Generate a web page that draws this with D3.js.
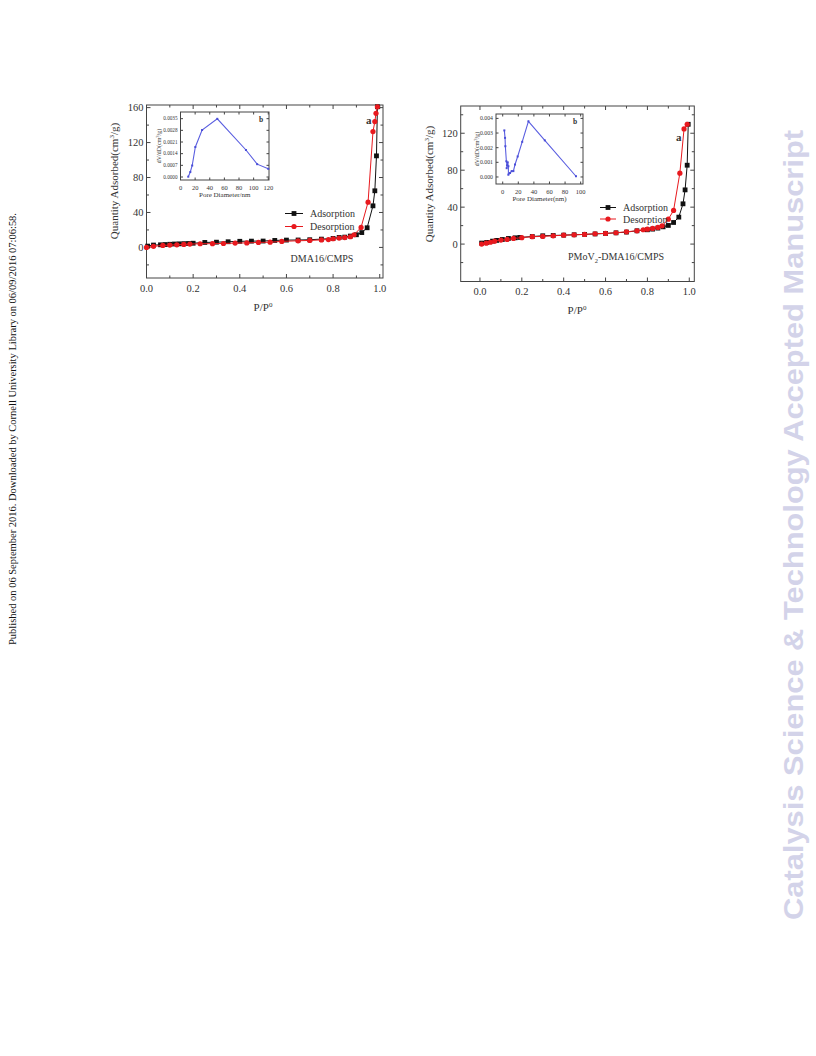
<!DOCTYPE html>
<html><head><meta charset="utf-8">
<script src="https://cdn.jsdelivr.net/npm/d3@7"></script>
<style>body{margin:0;background:#fff}svg{display:block}</style>
</head><body>
<svg id="c" width="816" height="1056"></svg>
<script>
// ---------- DATA ----------
// Left panel (DMA16/CMPS)
const leftAdsP = [0.005,0.03,0.06,0.08,0.10,0.12,0.14,0.16,0.18,0.20,0.25,0.30,0.35,0.40,0.45,0.50,0.55,0.60,0.65,0.70,0.75,0.80,0.826,0.85,0.874,0.90,0.923,0.946,0.971,0.979,0.986,0.99];
const leftAdsV = [1.5,2.7,3.0,3.3,3.6,3.9,4.1,4.3,4.5,4.8,5.7,6.0,6.5,7.0,7.2,7.3,8.0,8.4,8.5,8.8,9.5,10.3,11.4,11.8,13.0,14.5,17.0,22.5,47.6,64.8,104.8,161];
const leftDesP = [0.0,0.03,0.07,0.10,0.13,0.16,0.186,0.23,0.283,0.33,0.38,0.43,0.48,0.53,0.58,0.65,0.70,0.75,0.78,0.80,0.826,0.85,0.874,0.89,0.92,0.95,0.971,0.979,0.984,0.99];
const leftDesV = [0.0,1.2,2.3,2.7,3.0,3.4,3.8,4.2,4.3,4.5,5.0,5.2,5.7,6.0,6.9,7.6,8.0,8.6,9.0,9.9,10.7,11.3,12.2,14.5,22.9,51.8,132.6,144,153.5,161];
const leftInsetD = [10.6,13.4,16,20.3,29.5,50.3,89.5,104.8,120];
const leftInsetV = [0.00002,0.0003,0.00069,0.0018,0.00282,0.00349,0.00162,0.00077,0.00049];

// Right panel (PMoV2-DMA16/CMPS)
const rightAdsP = [0.008,0.032,0.06,0.08,0.107,0.136,0.168,0.19,0.25,0.30,0.35,0.40,0.45,0.50,0.55,0.60,0.65,0.70,0.75,0.80,0.825,0.85,0.875,0.90,0.925,0.95,0.97,0.98,0.99,0.995];
const rightAdsV = [1.1,1.8,3.2,4.0,5.0,6.1,6.8,7.2,8.2,9.0,9.3,9.7,10.1,10.5,11.0,11.5,12.2,13.0,14.4,15.5,16.2,17.3,18.7,20.2,23.4,29.2,43.6,58.7,85.4,129.7];
const rightDesP = [0.008,0.03,0.05,0.07,0.10,0.13,0.16,0.20,0.25,0.30,0.35,0.40,0.45,0.50,0.55,0.60,0.65,0.70,0.75,0.78,0.80,0.825,0.85,0.87,0.90,0.925,0.955,0.975,0.99];
const rightDesV = [0.0,1.0,2.0,3.2,4.3,5.0,6.1,7.0,8.0,8.3,9.0,9.6,10.0,10.5,11.2,11.6,12.3,13.3,14.4,15.5,16.2,17.0,18.0,19.8,27.0,36.4,76.8,124.7,129.7];
const rightInsetD = [2.1,3.0,3.4,4.7,5.5,5.1,6.4,7.3,7.3,9.4,11.5,13.7,15.8,19.2,25,33,54,94];
const rightInsetV = [0.00318,0.00267,0.0021,0.00107,0.0008,0.0006,0.001,0.00073,0.00016,0.00027,0.0004,0.0004,0.00085,0.0014,0.0024,0.0038,0.0025,0.00005];

const mainXTicks = [0.0,0.2,0.4,0.6,0.8,1.0];
const leftYTicks = [0,40,80,120,160];
const rightYTicks = [0,40,80,120];
const leftInsetXTicks = [0,20,40,60,80,100,120];
const leftInsetYTicks = [0.0000,0.0007,0.0014,0.0021,0.0028,0.0035];
const rightInsetXTicks = [0,20,40,60,80,100];
const rightInsetYTicks = [0.000,0.001,0.002,0.003,0.004];

const seriesNames = ["Adsorption","Desorption"];
const panelLabels = ["DMA16/CMPS","PMoV2-DMA16/CMPS"];
const sideNote = "Published on 06 September 2016. Downloaded by Cornell University Library on 06/09/2016 07:06:58.";
const watermark = "Catalysis Science & Technology Accepted Manuscript";

// ---------- DRAW ----------
const svg = d3.select("#c");
const SERIF = "'Liberation Serif','Times New Roman',serif";
const AX = "#444";

function frameAxes(g, x, y, xt, yt, xMinor, yMinor, fmtX, fmtY, fs, fsy, majL, minL) {
  const [x0,x1] = x.range(), [y0,y1] = y.range();
  g.append("rect").attr("x",x0).attr("y",y1).attr("width",x1-x0).attr("height",y0-y1)
    .attr("fill","none").attr("stroke",AX).attr("stroke-width",1);
  const tick = (a,b,c,d) => g.append("line").attr("x1",a).attr("y1",b).attr("x2",c).attr("y2",d).attr("stroke",AX).attr("stroke-width",1);
  xt.forEach(v=>{ const px=x(v); tick(px,y0,px,y0-majL); tick(px,y1,px,y1+majL);
    g.append("text").attr("x",px).attr("y",y0+fs+3).attr("text-anchor","middle").attr("font-family",SERIF).attr("font-size",fs).attr("fill","#333").text(fmtX(v)); });
  xMinor.forEach(v=>{ const px=x(v); tick(px,y0,px,y0-minL); tick(px,y1,px,y1+minL); });
  yt.forEach(v=>{ const py=y(v); tick(x0,py,x0+majL,py); tick(x1,py,x1-majL,py);
    g.append("text").attr("x",x0-3).attr("y",py).attr("dy","0.35em").attr("text-anchor","end").attr("font-family",SERIF).attr("font-size",fsy).attr("fill","#333").text(fmtY(v)); });
  yMinor.forEach(v=>{ const py=y(v); tick(x0,py,x0+minL,py); tick(x1,py,x1-minL,py); });
}

function series(g, x, y, P, V, color, shape) {
  const pts = P.map((p,i)=>[p,V[i]]);
  g.append("path").datum(pts).attr("fill","none").attr("stroke",color).attr("stroke-width",1)
    .attr("d", d3.line().x(d=>x(d[0])).y(d=>y(d[1])));
  const s = g.append("g").attr("fill",color);
  if (shape==="square") s.selectAll("rect").data(pts).join("rect")
      .attr("x",d=>x(d[0])-2.4).attr("y",d=>y(d[1])-2.4).attr("width",4.8).attr("height",4.8);
  else s.selectAll("circle").data(pts).join("circle").attr("cx",d=>x(d[0])).attr("cy",d=>y(d[1])).attr("r",2.6);
}

function panel(cfg) {
  const g = svg.append("g");
  const x = d3.scaleLinear().domain(cfg.xd).range(cfg.xr);
  const y = d3.scaleLinear().domain(cfg.yd).range(cfg.yr);
  const xMinor = d3.range(0.1,1.01,0.2);
  const yMinor = d3.range(-20, cfg.yd[1], 40);
  frameAxes(g, x, y, mainXTicks, cfg.yTicks, xMinor, yMinor, d3.format(".1f"), d3.format("d"), 10.5, 10.5, 4, 2.5);
  series(g, x, y, cfg.adsP, cfg.adsV, "#111", "square");
  series(g, x, y, cfg.desP, cfg.desV, "#e8191e", "circle");
  const yt = g.append("text").attr("transform",`translate(${cfg.yTitleX},${cfg.yTitleY}) rotate(-90)`)
    .attr("text-anchor","middle").attr("font-family",SERIF).attr("font-size",11).attr("fill","#333");
  yt.append("tspan").text("Quantity Adsorbed(cm");
  yt.append("tspan").attr("font-size",7).attr("dy",-4).text("3");
  yt.append("tspan").attr("dy",4).text("/g)");
  const xt = g.append("text").attr("x",cfg.xTitleX).attr("y",cfg.xTitleY).attr("text-anchor","middle")
    .attr("font-family",SERIF).attr("font-size",11).attr("fill","#333");
  xt.append("tspan").text("P/P");
  xt.append("tspan").attr("font-size",7).attr("dy",-4).text("0");
  const lg = g.append("g").attr("font-family",SERIF).attr("font-size",10).attr("fill","#333");
  [[seriesNames[0],"#111","square",cfg.legY[0]],[seriesNames[1],"#e8191e","circle",cfg.legY[1]]].forEach(([n,c,sh,ly])=>{
    lg.append("line").attr("x1",cfg.legX).attr("x2",cfg.legX+cfg.legW).attr("y1",ly).attr("y2",ly).attr("stroke",c);
    const mx = cfg.legX+cfg.legW/2;
    if (sh==="square") lg.append("rect").attr("x",mx-2.4).attr("y",ly-2.4).attr("width",4.8).attr("height",4.8).attr("fill",c);
    else lg.append("circle").attr("cx",mx).attr("cy",ly).attr("r",2.6).attr("fill",c);
    lg.append("text").attr("x",cfg.legX+cfg.legW+7).attr("y",ly).attr("dy","0.35em").text(n);
  });
  const pl = g.append("text").attr("x",cfg.labX).attr("y",cfg.labY).attr("text-anchor","middle")
    .attr("font-family",SERIF).attr("font-size",10).attr("fill","#333");
  if (cfg.id==="R") {
    pl.append("tspan").text("PMoV");
    pl.append("tspan").attr("font-size",6.5).attr("dy",3).text("2");
    pl.append("tspan").attr("dy",-3).text("-DMA16/CMPS");
  } else pl.text(cfg.label);
  g.append("text").attr("x",cfg.aX).attr("y",cfg.aY).attr("font-family",SERIF).attr("font-weight","bold")
    .attr("font-size",11).attr("fill","#333").text("a");
  // inset
  const ig = g.append("g");
  const ix = d3.scaleLinear().domain(cfg.ixd).range(cfg.ixr);
  const iy = d3.scaleLinear().domain(cfg.iyd).range(cfg.iyr);
  ig.append("rect").attr("x",cfg.ixr[0]).attr("y",cfg.iyr[1]).attr("width",cfg.ixr[1]-cfg.ixr[0]).attr("height",cfg.iyr[0]-cfg.iyr[1]).attr("fill","#fff");
  frameAxes(ig, ix, iy, cfg.ixt, cfg.iyt, [], [], d3.format("d"), cfg.iyFmt, 6.5, cfg.iyFs, 2.5, 1.5);
  const ipts = cfg.iD.map((d,i)=>[d,cfg.iV[i]]);
  ig.append("path").datum(ipts).attr("fill","none").attr("stroke","#5a5ee0").attr("stroke-width",1.1)
    .attr("d", d3.line().x(d=>ix(d[0])).y(d=>iy(d[1])));
  ig.append("g").attr("fill","#4a4ed8").selectAll("rect").data(ipts).join("rect")
    .attr("x",d=>ix(d[0])-1).attr("y",d=>iy(d[1])-1).attr("width",2).attr("height",2);
  ig.append("text").attr("x",cfg.ixr[1]-10).attr("y",cfg.iyr[1]+10).attr("font-family",SERIF).attr("font-weight","bold")
    .attr("font-size",7.5).attr("fill","#333").text("b");
  ig.append("text").attr("x",(cfg.ixr[0]+cfg.ixr[1])/2).attr("y",cfg.iyr[0]+16.5).attr("text-anchor","middle")
    .attr("font-family",SERIF).attr("font-size",7).attr("fill","#333").text(cfg.ixTitle);
  const iyt = ig.append("text").attr("transform",`translate(${cfg.iyTitleX},${(cfg.iyr[0]+cfg.iyr[1])/2}) rotate(-90)`)
    .attr("text-anchor","middle").attr("font-family",SERIF).attr("font-size",6).attr("fill","#333");
  iyt.append("tspan").text("dV/dD(cm");
  iyt.append("tspan").attr("font-size",4.5).attr("dy",-2.5).text("3");
  iyt.append("tspan").attr("dy",2.5).text("/g)");
}

panel({id:"L", xd:[0,1.014], xr:[146.5,383], yd:[-35,163], yr:[278,105],
  yTicks:leftYTicks, adsP:leftAdsP, adsV:leftAdsV, desP:leftDesP, desV:leftDesV,
  yTitleX:118, yTitleY:181, xTitleX:263, xTitleY:311,
  legX:285, legW:18, legY:[213.5,226.5], labX:322, labY:262, label:panelLabels[0], aX:366, aY:124,
  ixd:[0,121], ixr:[180.5,269], iyd:[-0.00018,0.0039], iyr:[180,112],
  ixt:leftInsetXTicks, iyt:leftInsetYTicks, iyFmt:d3.format(".4f"), iyFs:5.2, iD:leftInsetD, iV:leftInsetV,
  ixTitle:"Pore Diameter/nm", iyTitleX:161});

panel({id:"R", xd:[-0.092,1.024], xr:[460.7,694.3], yd:[-40.5,149.5], yr:[281.5,106],
  yTicks:rightYTicks, adsP:rightAdsP, adsV:rightAdsV, desP:rightDesP, desV:rightDesV,
  yTitleX:433, yTitleY:184, xTitleX:577, xTitleY:314,
  legX:600, legW:16, legY:[207.5,219], labX:616, labY:260, label:panelLabels[1], aX:676, aY:141,
  ixd:[-8.6,103], ixr:[496,583], iyd:[-0.00048,0.0043], iyr:[184,114],
  ixt:rightInsetXTicks, iyt:rightInsetYTicks, iyFmt:d3.format(".3f"), iyFs:5.8, iD:rightInsetD, iV:rightInsetV,
  ixTitle:"Pore Diameter(nm)", iyTitleX:479});

svg.append("text").attr("transform","translate(16,429) rotate(-90)").attr("text-anchor","middle")
  .attr("font-family",SERIF).attr("font-size",10).attr("fill","#111")
  .attr("textLength",432).attr("lengthAdjust","spacingAndGlyphs").text(sideNote);
svg.append("text").attr("transform","translate(803,525) rotate(-90)").attr("text-anchor","middle")
  .attr("font-family","'Liberation Sans',Arial,sans-serif").attr("font-weight","bold").attr("font-size",27)
  .attr("fill","#d3d3e9").attr("textLength",790).attr("lengthAdjust","spacingAndGlyphs").text(watermark);
</script>
</body></html>
